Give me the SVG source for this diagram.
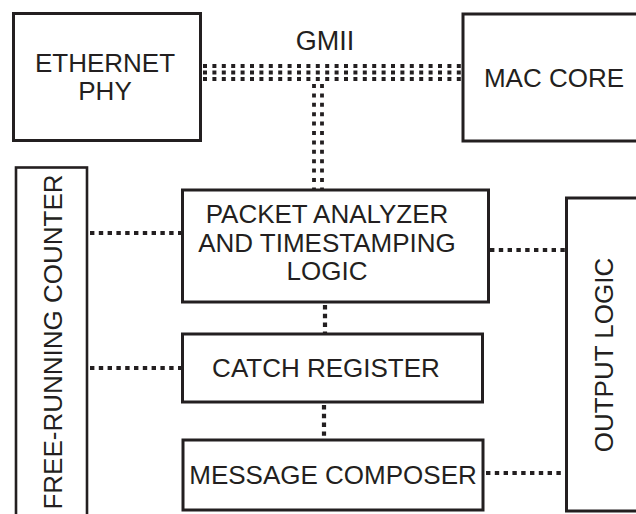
<svg xmlns="http://www.w3.org/2000/svg" width="636" height="514" viewBox="0 0 636 514">
<style>
.box{fill:#fff;stroke:#231f20;stroke-width:3}
.thin{fill:#fff;stroke:#231f20;stroke-width:2.6}
.t{font-family:"Liberation Sans",Arial,sans-serif;font-size:26px;fill:#231f20;text-anchor:middle}
.dot{fill:none;stroke:#231f20;stroke-width:4.2;stroke-dasharray:4.4 4.4}
.bus{fill:none;stroke:#231f20;stroke-width:3.8;stroke-dasharray:4 5.4}
</style>
<rect width="636" height="514" fill="#fff"/>
<g id="connectors">
  <line class="bus" x1="203" y1="66" x2="461" y2="66"/>
  <line class="bus" x1="203" y1="72.5" x2="461" y2="72.5"/>
  <line class="bus" x1="203" y1="79" x2="461" y2="79"/>
  <line class="bus" x1="314" y1="84" x2="314" y2="189"/>
  <line class="bus" x1="322" y1="84" x2="322" y2="189"/>
  <line class="dot" x1="90" y1="233" x2="181" y2="233"/>
  <line class="dot" x1="490" y1="250" x2="565" y2="250"/>
  <line class="dot" x1="325" y1="305" x2="325" y2="333"/>
  <line class="dot" x1="90" y1="368" x2="181" y2="368"/>
  <line class="dot" x1="324" y1="405" x2="324" y2="439"/>
  <line class="dot" x1="486" y1="473" x2="565" y2="473"/>
</g>
<g id="gmii-label"><text class="t" x="325" y="50" style="font-size:27px">GMII</text></g>
<g id="ethernet-phy">
  <rect class="box" x="13.5" y="13.5" width="187" height="127"/>
  <text class="t" x="105" y="72">ETHERNET</text>
  <text class="t" x="105" y="100">PHY</text>
</g>
<g id="mac-core">
  <rect class="box" x="463" y="14" width="200" height="127"/>
  <text class="t" x="554" y="87">MAC CORE</text>
</g>
<g id="free-running-counter">
  <rect class="thin" x="16" y="167.5" width="71" height="360"/>
  <text class="t" transform="translate(62,342) rotate(-90)">FREE-RUNNING COUNTER</text>
</g>
<g id="packet-analyzer">
  <rect class="box" x="182.5" y="190" width="306" height="112"/>
  <text class="t" x="327" y="223">PACKET ANALYZER</text>
  <text class="t" x="327" y="252">AND TIMESTAMPING</text>
  <text class="t" x="327" y="280">LOGIC</text>
</g>
<g id="catch-register">
  <rect class="box" x="182.5" y="334" width="300" height="68"/>
  <text class="t" x="326" y="377">CATCH REGISTER</text>
</g>
<g id="message-composer">
  <rect class="box" x="183" y="440" width="300" height="70"/>
  <text class="t" x="333" y="484">MESSAGE COMPOSER</text>
</g>
<g id="output-logic">
  <rect class="box" x="566.5" y="198" width="100" height="313"/>
  <text class="t" transform="translate(613,355) rotate(-90)">OUTPUT LOGIC</text>
</g>
</svg>
